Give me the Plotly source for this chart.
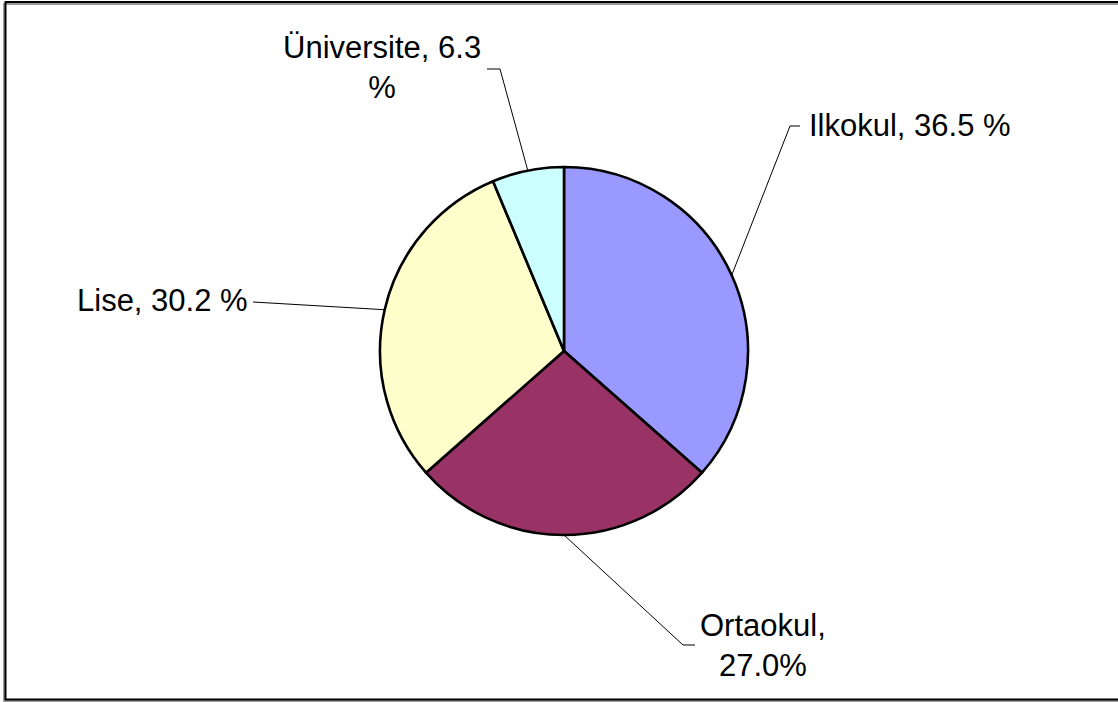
import math
import plotly.graph_objects as go

# ---- data ----
categories = ["Ilkokul", "Ortaokul", "Lise", "Üniversite"]
values = [36.5, 27.0, 30.2, 6.3]
label_texts = ["Ilkokul, 36.5 %", "Ortaokul,<br>27.0%", "Lise, 30.2 %", "Üniversite, 6.3<br>%"]
colors = ["#9999FF", "#993366", "#FFFFCC", "#CCFFFF"]

# ---- layout geometry (pixels) ----
W, H = 1118, 702
CX, CY, R = 564, 351, 184
# per-label: elbow point, line end, text position, xanchor
label_style = [
    dict(elbow=(790, 126), end=(800, 126), text=(807, 125), xanchor="left"),
    dict(elbow=(683, 645), end=(695, 645), text=(763, 645), xanchor="center"),
    dict(elbow=(253, 302), end=(253, 302), text=(250, 301), xanchor="right"),
    dict(elbow=(500, 69), end=(487, 69), text=(382, 68), xanchor="center"),
]

def px(x):
    return x / W

def py(y):
    return 1 - y / H

fig = go.Figure()
fig.add_trace(go.Pie(
    labels=categories,
    values=values,
    sort=False,
    direction="clockwise",
    rotation=0,
    marker=dict(colors=colors, line=dict(color="#000000", width=2.6)),
    textinfo="none",
    hoverinfo="label+percent",
    showlegend=False,
    domain=dict(x=[px(CX - R), px(CX + R)], y=[py(CY + R), py(CY - R)]),
))

shapes = []
# frame shadow and frame
shapes.append(dict(type="rect", xref="paper", yref="paper",
                   x0=px(4), x1=px(1125), y0=py(701), y1=py(4),
                   line=dict(color="#9a9a9a", width=2), layer="below"))
shapes.append(dict(type="rect", xref="paper", yref="paper",
                   x0=px(5.5), x1=px(1125), y0=py(699.5), y1=py(2),
                   line=dict(color="#000000", width=2), layer="below"))

annotations = []
total = sum(values)
cum = 0.0
for v, txt, st in zip(values, label_texts, label_style):
    mid = (cum + v / 2) / total * 2 * math.pi
    cum += v
    ax = CX + R * math.sin(mid)
    ay = CY - R * math.cos(mid)
    ex, ey = st["elbow"]
    fx, fy = st["end"]
    path = f"M {px(ax)},{py(ay)} L {px(ex)},{py(ey)} L {px(fx)},{py(fy)}"
    shapes.append(dict(type="path", xref="paper", yref="paper", path=path,
                       line=dict(color="#000000", width=1)))
    tx, ty = st["text"]
    annotations.append(dict(
        x=px(tx), y=py(ty), xref="paper", yref="paper",
        text=txt, showarrow=False, xanchor=st["xanchor"], yanchor="middle",
        align="center",
        font=dict(family="Liberation Sans, Arial, sans-serif", size=31, color="#000000"),
    ))

fig.update_layout(
    width=W, height=H,
    margin=dict(l=0, r=0, t=0, b=0),
    paper_bgcolor="#FFFFFF",
    plot_bgcolor="#FFFFFF",
    shapes=shapes,
    annotations=annotations,
)

fig.write_html(
    "out.html",
    config={"displayModeBar": False},
    post_script="document.body.style.margin='0';document.body.style.overflow='hidden';",
)
